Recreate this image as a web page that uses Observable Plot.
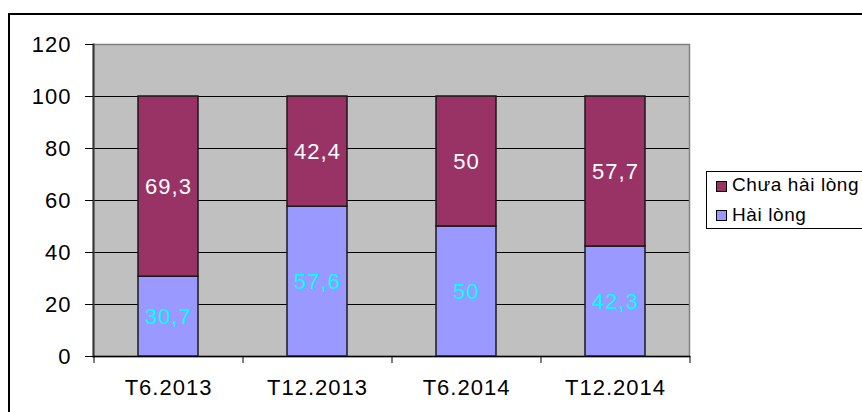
<!DOCTYPE html>
<html><head><meta charset="utf-8">
<script src="https://cdn.jsdelivr.net/npm/d3@7"></script>
<script src="https://cdn.jsdelivr.net/npm/@observablehq/plot@0.6"></script>
<style>
html,body{margin:0;padding:0;background:#fff;overflow:hidden;}
#wrap{position:relative;width:862px;height:412px;font-family:"Liberation Sans",Arial,sans-serif;overflow:hidden;}
#border{position:absolute;left:8px;top:13px;width:1000px;height:1000px;border:2px solid #000;box-sizing:border-box;pointer-events:none;}
#legend{position:absolute;left:706px;top:171px;width:200px;height:58px;border:1px solid #000;box-sizing:border-box;background:#fff;}
.sw{position:absolute;left:9px;width:11px;height:11px;border:1px solid #000;box-sizing:border-box;}
.lt{position:absolute;left:25px;font-size:19px;line-height:19px;letter-spacing:0.6px;white-space:nowrap;color:#000;}
#chart{position:absolute;left:0;top:0;}
#chart svg text{letter-spacing:1px;}
</style>
</head><body>
<div id="wrap">
  <div id="chart"></div>
  <div id="border"></div>
  <div id="legend"></div>
</div>
<script>
const categories = ["T6.2013", "T12.2013", "T6.2014", "T12.2014"];
const series = ["Hài lòng", "Chưa hài lòng"];
const haiLong = [30.7, 57.6, 50, 42.3];
const chuaHaiLong = [69.3, 42.4, 50, 57.7];
const yTicks = [0, 20, 40, 60, 80, 100, 120];
const seriesColors = ["#9999FF", "#993366"];
const labelColors = ["#00FFFF", "#FFFFFF"];
const legendOrder = ["Chưa hài lòng", "Hài lòng"];

const data = [];
categories.forEach((c, i) => {
  data.push({cat: c, series: series[0], value: haiLong[i]});
  data.push({cat: c, series: series[1], value: chuaHaiLong[i]});
});

const W = 862, H = 412, mL = 93, mR = 173, mT = 44, mB = 56;
const step = (W - mL - mR) / categories.length;
const fmt = v => String(v).replace(".", ",");
const font = "Liberation Sans, Arial, sans-serif";

const chart = Plot.plot({
  width: W, height: H,
  marginLeft: mL, marginRight: mR, marginTop: mT, marginBottom: mB,
  style: {fontFamily: font, background: "transparent", color: "#000"},
  x: {domain: categories, paddingInner: 0.6, paddingOuter: 0.3, label: null},
  y: {domain: [0, 120], label: null},
  color: {domain: series, range: seriesColors},
  marks: [
    Plot.frame({fill: "#C0C0C0", stroke: null}),
    Plot.ruleY(yTicks.filter(v => v > 0 && v < 120), {stroke: "#000", strokeWidth: 1}),
    Plot.barY(data, Plot.stackY({x: "cat", y: "value", fill: "series", stroke: "#1a1a1a", strokeWidth: 1.5})),
    Plot.text(data, Plot.stackY({
      x: "cat", y: "value",
      text: d => fmt(d.value),
      fill: d => labelColors[series.indexOf(d.series)],
      fontSize: 22, fontFamily: font
    })),
    Plot.frame({stroke: "#808080", strokeWidth: 1.5}),
    Plot.frame({anchor: "left", stroke: "#333", strokeWidth: 2}),
    Plot.frame({anchor: "bottom", stroke: "#000", strokeWidth: 1.5}),
    Plot.axisY({ticks: yTicks, tickSize: 8, tickPadding: 14, fontSize: 22, fontFamily: font, stroke: "#000", label: null}),
    Plot.axisX({tickSize: 0, tickPadding: 23, fontSize: 22, fontFamily: font, label: null}),
    Plot.axisX({tickSize: 7, tickFormat: () => "", dx: -step / 2, stroke: "#000", label: null}),
    Plot.axisX({ticks: categories.slice(-1), tickSize: 7, tickFormat: () => "", dx: step / 2, stroke: "#000", label: null})
  ]
});
document.getElementById("chart").appendChild(chart);

const legend = document.getElementById("legend");
legendOrder.forEach((name, i) => {
  const sw = document.createElement("div");
  sw.className = "sw";
  sw.style.top = (9 + i * 29) + "px";
  sw.style.background = seriesColors[series.indexOf(name)];
  legend.appendChild(sw);
  const t = document.createElement("div");
  t.className = "lt";
  t.style.top = (3 + i * 30) + "px";
  t.textContent = name;
  legend.appendChild(t);
});
</script>
</body></html>
